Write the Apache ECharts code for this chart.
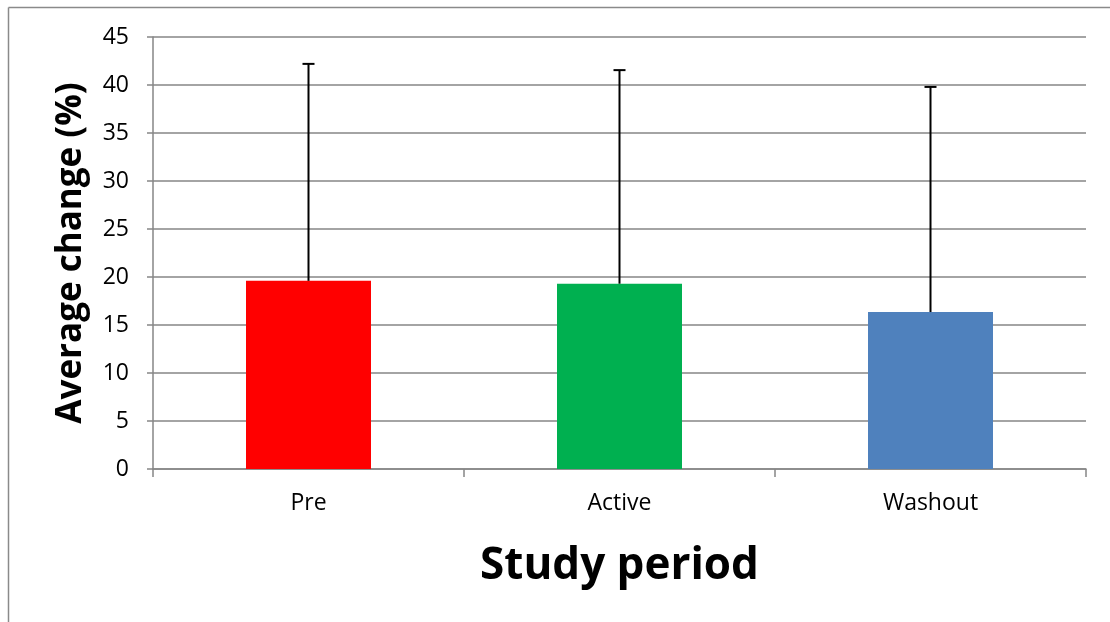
<!DOCTYPE html>
<html>
<head>
<meta charset="utf-8">
<script src="https://cdn.jsdelivr.net/npm/echarts@6/dist/echarts.min.js"></script>
<style>html,body{margin:0;padding:0;background:#fff}#c{width:1110px;height:622px}</style>
</head>
<body>
<div id="c"></div>
<script>
const categories = ['Pre', 'Active', 'Washout'];
const means = [19.6, 19.3, 16.35];
const errorUpper = [42.2, 41.55, 39.8];
const barColors = ['#FF0000', '#00B050', '#4F81BD'];
const yTicks = [0, 5, 10, 15, 20, 25, 30, 35, 40, 45];

const font = '"Open Sans", Lato, sans-serif';
const chart = echarts.init(document.getElementById('c'));
chart.setOption({
  animation: false,
  backgroundColor: '#fff',
  graphic: [
    {type: 'line', shape: {x1: 8.5, y1: 7.5, x2: 1110, y2: 7.5}, style: {stroke: '#8a8a8a', lineWidth: 1.5}},
    {type: 'line', shape: {x1: 8.5, y1: 7.5, x2: 8.5, y2: 622}, style: {stroke: '#8a8a8a', lineWidth: 1.5}}
  ],
  grid: {left: 153, right: 24, top: 37, bottom: 153},
  xAxis: {
    type: 'category',
    data: categories,
    name: 'Study period',
    nameLocation: 'middle',
    nameGap: 75,
    nameTextStyle: {fontFamily: font, fontWeight: 'bold', fontSize: 44, color: '#000'},
    axisLine: {lineStyle: {color: '#868686', width: 1.5}},
    axisTick: {show: true, length: 8, lineStyle: {color: '#868686', width: 1.5}},
    axisLabel: {fontFamily: font, fontSize: 23, color: '#000', margin: 23}
  },
  yAxis: {
    type: 'value',
    min: 0, max: 45, interval: 5,
    name: 'Average change (%)',
    nameLocation: 'middle',
    nameGap: 64,
    nameTextStyle: {fontFamily: font, fontWeight: 'bold', fontSize: 35, color: '#000'},
    axisLine: {show: true, lineStyle: {color: '#868686', width: 1.5}},
    axisTick: {show: true, length: 6, lineStyle: {color: '#868686', width: 1.5}},
    axisLabel: {fontFamily: font, fontSize: 23, color: '#000', margin: 24,
      formatter: v => yTicks.includes(v) ? String(v) : ''},
    splitLine: {lineStyle: {color: '#868686', width: 1.5}}
  },
  series: [
    {
      type: 'bar',
      barWidth: 125,
      data: means.map((v, i) => ({value: v, itemStyle: {color: barColors[i]}})),
      z: 2
    },
    {
      type: 'custom',
      z: 3,
      data: means.map((v, i) => [i, v, errorUpper[i]]),
      renderItem: function (params, api) {
        const x = api.value(0);
        const p0 = api.coord([x, api.value(1)]);
        const p1 = api.coord([x, api.value(2)]);
        const cap = 6;
        return {
          type: 'group',
          children: [
            {type: 'line', shape: {x1: p0[0], y1: p0[1], x2: p1[0], y2: p1[1]}, style: {stroke: '#000', lineWidth: 2}},
            {type: 'line', shape: {x1: p1[0] - cap, y1: p1[1], x2: p1[0] + cap, y2: p1[1]}, style: {stroke: '#000', lineWidth: 2}}
          ]
        };
      }
    }
  ]
});
</script>
</body>
</html>
